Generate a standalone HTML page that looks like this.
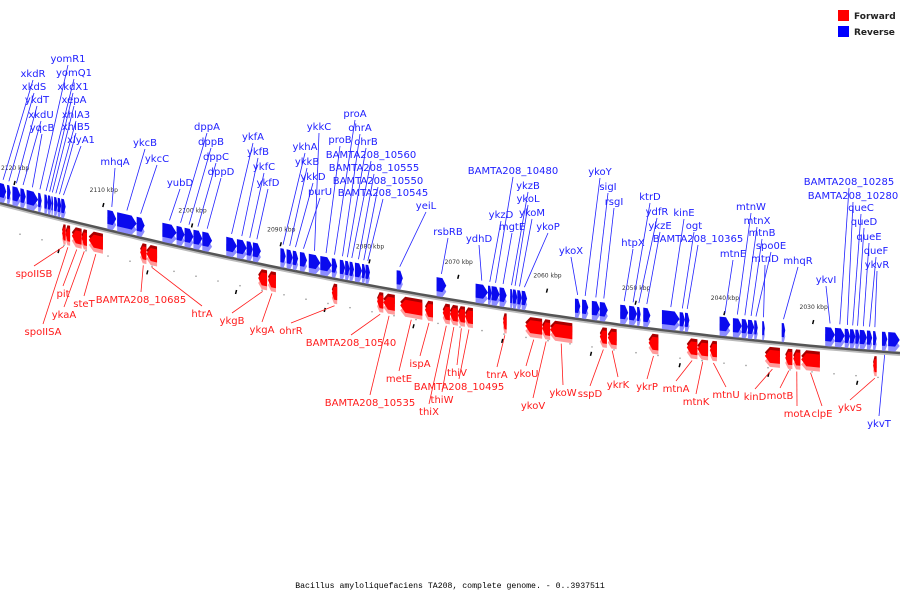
<!DOCTYPE html>
<html><head><meta charset="utf-8"><style>
html,body{margin:0;padding:0;background:#fff;}
svg{display:block;font-family:"DejaVu Sans","Liberation Sans",sans-serif;}
</style></head><body>
<svg id="chart" width="900" height="600" viewBox="0 0 900 600">
<g id="ticks"></g>
<g id="backbone"></g>
<g id="leaders"></g>
<g id="genes"></g>
<g id="labels"></g>
<g>
 <rect x="838" y="10" width="11" height="11" fill="#ff0000"/>
 <text x="854" y="19" font-size="9" font-weight="bold" fill="#222">Forward</text>
 <rect x="838" y="26" width="11" height="11" fill="#0000ff"/>
 <text x="854" y="35" font-size="9" font-weight="bold" fill="#222">Reverse</text>
</g>
<text x="450" y="588" text-anchor="middle" font-family="Liberation Mono, monospace" font-size="8.2" fill="#000">Bacillus amyloliquefaciens TA208, complete genome. - 0..3937511</text>
</svg>
<script>
// tick labels (kbp)
const tickKbp = [2120,2110,2100,2090,2080,2070,2060,2050,2040,2030];
// gene names
const geneNames = ["xkdR","xkdS","ykdT","xkdU","yqcB","yomR1","yomQ1","xkdX1","xepA","xhlA3","xhlB5","xlyA1",
"mhqA","ykcB","ykcC","yubD","dppA","dppB","dppC","dppD","ykfA","ykfB","ykfC","ykfD",
"ykhA","ykkB","ykkD","purU","ykkC","proB","proA","ohrA","ohrB","BAMTA208_10560","BAMTA208_10555","BAMTA208_10550","BAMTA208_10545",
"yeiL","rsbRB","ydhD","ykzD","BAMTA208_10480","mgtE","ykzB","ykoL","ykoM","ykoP",
"ykoX","ykoY","sigI","rsgI","htpX","ktrD","ydfR","ykzE","kinE","ogt","BAMTA208_10365",
"mtnE","mtnW","mtnX","mtnB","spo0E","mtnD","mhqR","ykvI","BAMTA208_10285","BAMTA208_10280","queC","queD","queE","queF","ykvR","ykvT","",
"spoIISB","spoIISA","pit","ykaA","steT","BAMTA208_10685","htrA","ykgB","ykgA","ohrR",
"BAMTA208_10540","BAMTA208_10535","metE","ispA","thiX","thiW","thiV","BAMTA208_10495","tnrA","ykoU","ykoV","ykoW",
"sspD","ykrK","ykrP","mtnA","mtnK","mtnU","kinD","motB","motA","clpE","ykvS"];
// gene start (kbp, left end on map)
const geneStart = [2121.7,2120.9,2120.3,2119.4,2118.7,2117.4,2116.7,2116.3,2115.9,2115.6,2115.2,2114.8,
2109.6,2108.5,2106.3,2103.4,2101.8,2100.9,2099.9,2098.9,2096.2,2095.0,2093.9,2093.2,
2090.1,2089.4,2088.7,2087.9,2086.9,2085.6,2084.3,2083.4,2082.8,2082.3,2081.7,2080.9,2080.5,
2077.0,2072.5,2068.1,2066.7,2066.3,2065.4,2064.2,2063.9,2063.4,2062.9,
2056.9,2056.1,2055.0,2054.1,2051.8,2050.8,2049.9,2049.2,2047.1,2045.1,2044.5,
2040.6,2039.1,2038.1,2037.4,2036.7,2035.8,2033.6,2028.7,2027.6,2026.5,2025.9,2025.3,2024.8,2024.0,2023.3,2022.3,2021.6,
2114.7,2114.3,2113.6,2112.5,2111.7,2105.9,2105.2,2092.6,2091.5,2084.3,
2079.2,2078.5,2076.6,2073.8,2071.8,2071.0,2070.1,2069.3,2065.0,2062.5,2060.6,2059.7,
2054.1,2053.2,2048.6,2044.3,2043.1,2041.7,2035.5,2033.2,2032.3,2031.4,2023.3];
// gene end (kbp, right end on map)
const geneEnd = [2121.0,2120.5,2119.4,2118.8,2117.4,2117.0,2116.3,2115.9,2115.7,2115.2,2114.8,2114.3,
2108.6,2106.3,2105.4,2101.8,2100.9,2099.9,2098.9,2097.8,2095.0,2093.9,2093.2,2092.3,
2089.5,2088.7,2088.1,2087.1,2085.6,2084.3,2083.7,2082.8,2082.3,2081.8,2080.9,2080.5,2080.0,
2076.3,2071.4,2066.7,2066.3,2065.4,2064.6,2063.9,2063.4,2062.9,2062.3,
2056.3,2055.4,2054.1,2053.2,2050.9,2049.9,2049.5,2048.4,2045.1,2044.5,2044.0,
2039.4,2038.1,2037.4,2036.7,2036.3,2035.5,2033.2,2027.6,2026.5,2025.9,2025.3,2024.8,2024.0,2023.4,2022.9,2021.7,2020.3,
2114.3,2113.8,2112.5,2111.9,2110.1,2105.2,2104.0,2091.6,2090.6,2083.7,
2078.5,2077.2,2074.1,2072.9,2071.0,2070.1,2069.3,2068.4,2064.6,2060.6,2059.7,2057.2,
2053.3,2052.2,2047.5,2043.1,2041.9,2040.9,2033.8,2032.4,2031.5,2029.3,2022.9];
// strand: 1 = reverse (blue, above), 0 = forward (red, below)
const geneStrand = [1,1,1,1,1,1,1,1,1,1,1,1, 1,1,1,1,1,1,1,1,1,1,1,1, 1,1,1,1,1,1,1,1,1,1,1,1,1,
1,1,1,1,1,1,1,1,1,1, 1,1,1,1,1,1,1,1,1,1,1, 1,1,1,1,1,1,1,1,1,1,1,1,1,1,1,1,1,
0,0,0,0,0,0,0,0,0,0, 0,0,0,0,0,0,0,0,0,0,0,0, 0,0,0,0,0,0,0,0,0,0,0];
// label anchors (layout)
const labelX = [33,34,37,41,42,68,74,73,74,76,76,81, 115,145,157,180,207,211,216,221,253,258,264,268,
305,307,313,320,319,340,355,360,366,371,374,378,383, 426,448,479,501,513,512,528,528,532,548,
571,600,608,614,633,650,657,660,684,694,698, 733,751,757,762,771,765,798,826,849,853,861,864,869,876,877,879,-1,
34,43,63,64,84,141,202,232,262,291, 351,370,399,420,429,442,457,459,497,526,533,563,
590,618,647,676,696,726,755,780,797,822,850];
const labelY = [77,90,103,118,131,62,76,90,103,118,130,143, 165,146,162,186,130,145,160,175,140,155,170,186,
150,165,180,195,130,143,117,131,145,158,171,184,196, 209,235,242,218,174,230,189,202,216,230,
254,175,190,205,246,200,215,229,216,229,242, 257,210,224,236,249,262,264,283,185,199,211,225,240,254,268,427,-1,
277,335,297,318,307,303,317,324,333,334, 346,406,382,367,415,403,376,390,378,377,409,396,
397,388,390,392,405,398,400,399,417,417,411];

const NS='http://www.w3.org/2000/svg';
function xs(k){ return (2121.7 - k) * 8.873; }
function yl(x){ return 203 + 0.2617*x - 0.0001056*x*x; }
function mk(tag, attrs, parent){ const e=document.createElementNS(NS,tag); for(const a in attrs) e.setAttribute(a,attrs[a]); parent.appendChild(e); return e; }

// backbone
const bb=document.getElementById('backbone');
let d1='',d2='';
for(let x=0;x<=900;x+=10){ d1+=(x?'L':'M')+x+','+yl(x).toFixed(1); d2+=(x?'L':'M')+x+','+(yl(x)+2).toFixed(1); }
const bl=mk('path',{d:d2,stroke:'#bbb','stroke-width':2,fill:'none'},bb);


const bm=mk('path',{d:d1,stroke:'#555','stroke-width':2.5,fill:'none'},bb);



// ticks
const tg=document.getElementById('ticks');
tickKbp.forEach(k=>{
  const x=xs(k);
  const t=mk('text',{x:x,y:yl(x)-37,'font-size':6,'text-anchor':'middle',fill:'#333'},tg);
  t.textContent=k+' kbp';
  
  
  const m=mk('line',{x1:x,y1:yl(x)-26,x2:x-1,y2:yl(x)-22,stroke:'#000','stroke-width':1.5},tg);
  
  
  const m2=mk('line',{x1:x+44,y1:yl(x+44)+31,x2:x+43,y2:yl(x+44)+35,stroke:'#000','stroke-width':1.5},tg);
  
  
});
for(let x=20;x<900;x+=22){
  const c=mk('circle',{cx:x,cy:yl(x)+ (x%44?26:36),r:0.8,fill:'#999'},tg);
  
  
}

function arrowPts(x1,x2,right,top,bot,dy){
  const h=Math.min(5,(x2-x1)*0.4);
  const y=(x,o)=>(yl(x)+o+dy).toFixed(1);
  const mid=(top+bot)/2;
  if(right) return [[x1,y(x1,top)],[x2-h,y(x2-h,top)],[x2,y(x2,mid)],[x2-h,y(x2-h,bot)],[x1,y(x1,bot)]].map(p=>p.join(',')).join(' ');
  return [[x1,y(x1,mid)],[x1+h,y(x1+h,top)],[x2,y(x2,top)],[x2,y(x2,bot)],[x1+h,y(x1+h,bot)]].map(p=>p.join(',')).join(' ');
}

const gg=document.getElementById('genes'), lg=document.getElementById('leaders'), lab=document.getElementById('labels');
geneNames.forEach((n,i)=>{
  const x1=xs(geneStart[i]), x2=xs(geneEnd[i]), rev=geneStrand[i]===1;
  const g=mk('g',{},gg);
  
  
  if(rev){
    mk('polygon',{points:arrowPts(x1,x2,true,-17,-5,4),fill:'#8c8cff'},g);
    mk('polygon',{points:arrowPts(x1,x2,true,-20,-6,0),fill:'#0a0aee'},g);
  } else {
    mk('polygon',{points:arrowPts(x1,x2,false,8,20,-3),fill:'#a80000'},g);
    mk('polygon',{points:arrowPts(x1,x2,false,10,21,4),fill:'#ff9a9a'},g);
    mk('polygon',{points:arrowPts(x1,x2,false,8,21,0),fill:'#ff0000'},g);
  }
  if(!n || labelX[i]<0) return;
  const cx=(x1+x2)/2, col=rev?'#2020ff':'#ff1a1a';
  const below = labelY[i] > yl(labelX[i]);
  const gy = rev ? (below? yl(cx)+3 : yl(cx)-24) : yl(cx)+27;
  const ly = below ? labelY[i]-11 : labelY[i]+3;
  const l=mk('line',{x1:labelX[i],y1:ly,x2:cx,y2:gy,stroke:col,'stroke-width':0.8},lg);
  
  
  const t=mk('text',{x:labelX[i],y:labelY[i],'text-anchor':'middle','font-size':10,fill:col},lab);
  t.textContent=n;
  
  
});
</script>
</body></html>
